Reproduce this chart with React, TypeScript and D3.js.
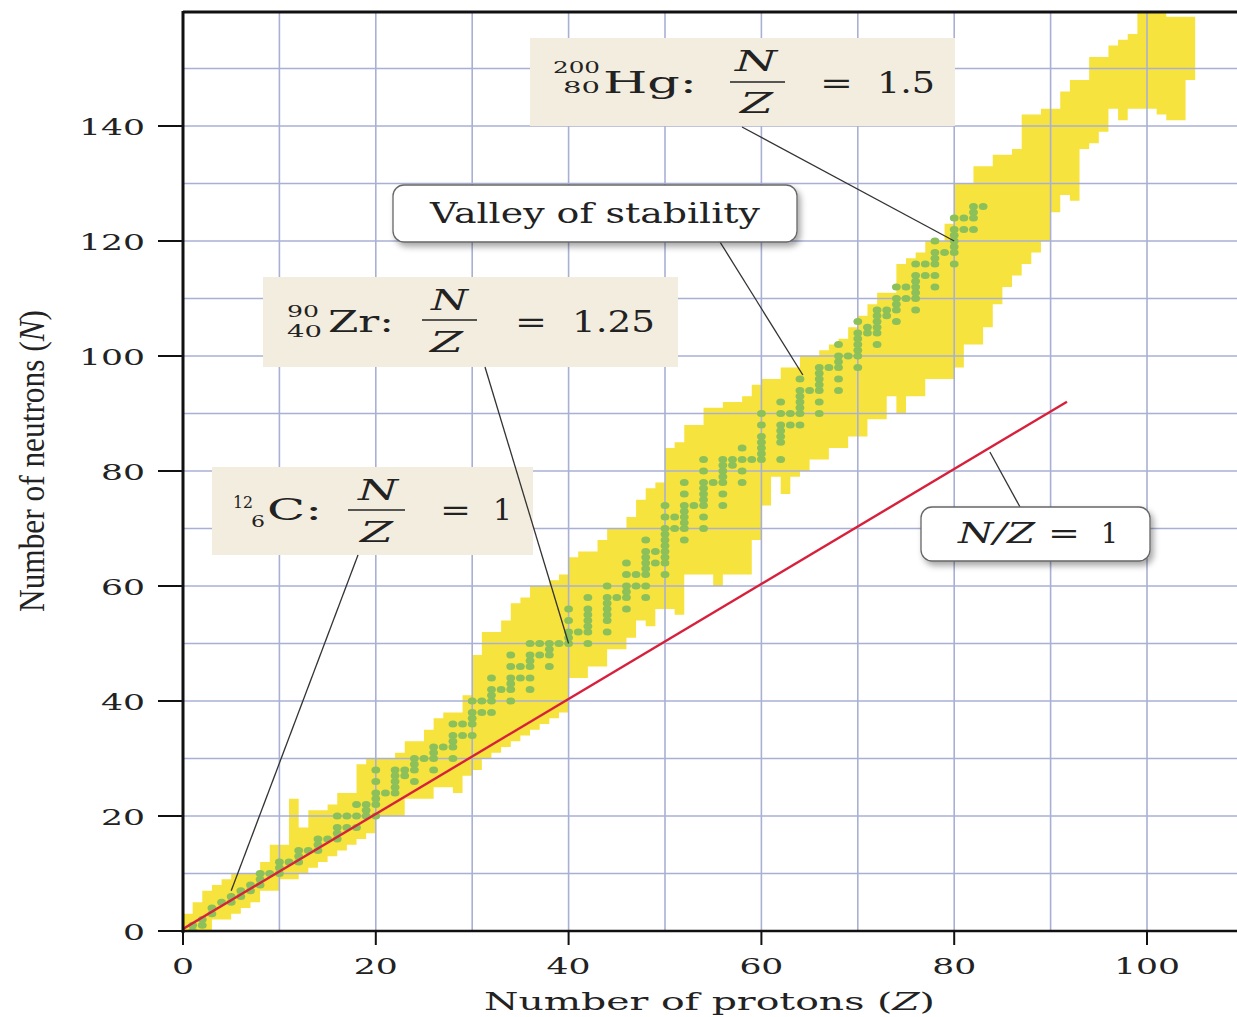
import React from 'react';
import * as d3 from 'd3';

const W = 1237;
const H = 1017;

// axis ticks
const zTicks = [0, 20, 40, 60, 80, 100];
const nTicks = [0, 20, 40, 60, 80, 100, 120, 140];
const zGrid = [10, 20, 30, 40, 50, 60, 70, 80, 90, 100];
const nGrid = [10, 20, 30, 40, 50, 60, 70, 80, 90, 100, 110, 120, 130, 140, 150];

// band of known nuclides: for each proton column Z..Z+1, lowest and highest N
const bandLow = [
  0, 0, 0, 2, 2, 3, 4, 5, 7, 7,
  9, 9, 10, 11, 12, 13, 14, 15, 16, 17,
  20, 20, 20, 23, 23, 23, 25, 25, 24, 27,
  28, 30, 31, 32, 33, 34, 35, 36, 37, 38,
  44, 44, 46, 46, 49, 49, 51, 54, 53, 56,
  56, 55, 62, 62, 62, 60, 62, 62, 62, 68,
  74, 79, 76, 79, 80, 82, 82, 84, 84, 86,
  86, 89, 89, 93, 90, 93, 93, 96, 96, 96,
  98, 102, 102, 105, 109, 112, 114, 116, 118, 120,
  125, 128, 127, 136, 137, 139, 143, 141, 143, 143,
  143, 142, 141, 141, 148,
];
const bandHigh = [
  3, 5, 7, 8, 9, 10, 10, 10, 12, 15,
  15, 23, 18, 21, 21, 22, 24, 24, 29, 30,
  30, 30, 31, 33, 33, 35, 37, 38, 38, 41,
  48, 52, 52, 54, 57, 58, 60, 60, 61, 62,
  65, 66, 66, 68, 70, 70, 72, 75, 77, 78,
  84, 85, 88, 88, 91, 91, 92, 92, 93, 95,
  96, 96, 98, 98, 100, 100, 101, 102, 103, 105,
  107, 109, 111, 111, 116, 117, 118, 120, 120, 123,
  130, 130, 133, 133, 135, 135, 136, 142, 142, 143,
  143, 146, 148, 148, 152, 152, 154, 155, 156, 160,
  160, 160, 159, 159, 159,
];

// stable nuclides: neutron numbers for each Z (index = Z)
const stableN: number[][] = [
  [], [0, 1], [1, 2], [3, 4], [5], [5, 6], [6, 7], [7, 8], [8, 9, 10], [10],
  [10, 11, 12], [12], [12, 13, 14], [14], [14, 15, 16], [16], [16, 17, 18, 20], [18, 20], [18, 20, 22], [20, 21, 22],
  [20, 22, 23, 24, 26, 28], [24], [24, 25, 26, 27, 28], [27, 28], [26, 28, 29, 30], [30], [28, 30, 31, 32], [32], [30, 32, 33, 34, 36], [34, 36],
  [34, 36, 37, 38, 40], [38, 40], [38, 40, 41, 42, 44], [42], [40, 42, 43, 44, 46, 48], [44, 46], [42, 44, 46, 47, 48, 50], [48, 50], [46, 48, 49, 50], [50],
  [50, 51, 52, 54, 56], [52], [50, 52, 53, 54, 55, 56, 58], [], [52, 54, 55, 56, 57, 58, 60], [58], [56, 58, 59, 60, 62, 64], [60, 62], [58, 60, 62, 63, 64, 65, 66, 68], [64, 66],
  [62, 64, 65, 66, 67, 68, 69, 70, 72, 74], [70, 72], [68, 70, 71, 72, 73, 74, 76, 78], [74], [70, 72, 74, 75, 76, 77, 78, 80, 82], [78], [74, 76, 78, 79, 80, 81, 82], [81, 82], [78, 80, 82, 84], [82],
  [82, 83, 84, 85, 86, 88, 90], [], [82, 85, 86, 87, 88, 90, 92], [88, 90], [88, 90, 91, 92, 93, 94, 96], [94], [90, 92, 94, 95, 96, 97, 98], [98], [94, 96, 98, 99, 100, 102], [100],
  [98, 100, 101, 102, 103, 104, 106], [104, 105], [102, 104, 105, 106, 107, 108], [107, 108], [106, 108, 109, 110, 112], [110, 112], [108, 110, 111, 112, 113, 114, 116], [114, 116], [112, 114, 116, 117, 118, 120], [118],
  [116, 118, 119, 120, 121, 122, 124], [122, 124], [122, 124, 125, 126], [126],
];

// N/Z = 1 reference line (Z values; N = Z)
const nzOneLine = [0, 91.7];

// annotation targets (Z, N)
const targetC = [5, 7];
const targetZr = [40, 50];
const targetHg = [80, 120];
const targetValley = [64.3, 96.7];
const targetNZ = [83.7, 83.3];

const SERIF = "'DejaVu Serif', serif";
const YELLOW = '#f7e33d';
const GREEN = '#8cc05a';
const GRID = '#a9b0d4';
const RED = '#d7203c';
const BEIGE = '#f3eddf';

export default function App() {
  const x = d3.scaleLinear().domain([0, 100]).range([183, 1147]);
  const y = d3.scaleLinear().domain([0, 160]).range([931, 11]);

  const bandData = bandLow.map((lo, i) => ({ z: i, lo, hi: bandHigh[i] }));
  bandData.push({ z: bandLow.length, lo: bandLow[bandLow.length - 1], hi: bandHigh[bandHigh.length - 1] });
  const area = d3
    .area<{ z: number; lo: number; hi: number }>()
    .x((d) => x(d.z))
    .y0((d) => y(d.lo))
    .y1((d) => y(d.hi))
    .curve(d3.curveStepAfter);

  const dots: { z: number; n: number }[] = [];
  stableN.forEach((ns, z) => ns.forEach((n) => dots.push({ z, n })));

  const redLine = d3
    .line<number>()
    .x((d) => x(d))
    .y((d) => y(d) - 2);

  const digitW = 22;

  return (
    <svg width={W} height={H} style={{ position: 'absolute', left: 0, top: 0, background: '#fff' }}>
      <defs>
        <clipPath id="plot">
          <rect x={183} y={12} width={W - 183} height={931 - 12} />
        </clipPath>
        <filter id="shadow" x="-10%" y="-20%" width="130%" height="160%">
          <feDropShadow dx="3" dy="4" stdDeviation="3" floodColor="#000" floodOpacity="0.35" />
        </filter>
      </defs>
      <rect x={0} y={0} width={W} height={H} fill="#fff" />

      <g clipPath="url(#plot)">
        <path d={area(bandData) || ''} fill={YELLOW} />
        {zGrid.map((z) => (
          <line key={'gz' + z} x1={x(z)} x2={x(z)} y1={y(0)} y2={y(160)} stroke={GRID} strokeWidth={1.6} />
        ))}
        {nGrid.map((n) => (
          <line key={'gn' + n} x1={x(0)} x2={W} y1={y(n)} y2={y(n)} stroke={GRID} strokeWidth={1.6} />
        ))}
        {dots.map((d, i) => (
          <ellipse key={'d' + i} cx={x(d.z)} cy={y(d.n)} rx={4.4} ry={3.5} fill={GREEN} />
        ))}
        <path d={redLine(nzOneLine) || ''} fill="none" stroke={RED} strokeWidth={2.4} />
      </g>

      {/* axes */}
      <line x1={183} x2={W} y1={12} y2={12} stroke="#111" strokeWidth={3} />
      <line x1={183} x2={183} y1={11} y2={933} stroke="#111" strokeWidth={3} />
      <line x1={182} x2={W} y1={931} y2={931} stroke="#111" strokeWidth={2.5} />

      {nTicks.map((n) => {
        const s = String(n);
        const w = s.length * digitW;
        return (
          <g key={'yt' + n}>
            <line x1={158} x2={183} y1={y(n)} y2={y(n)} stroke="#111" strokeWidth={2} />
            <text x={145 - w} y={y(n) + 8.5} fontFamily={SERIF} fontSize={23} fill="#222" textLength={w} lengthAdjust="spacingAndGlyphs">
              {s}
            </text>
          </g>
        );
      })}
      {zTicks.map((z) => {
        const s = String(z);
        const w = s.length * digitW;
        return (
          <g key={'xt' + z}>
            <line x1={x(z)} x2={x(z)} y1={931} y2={945} stroke="#111" strokeWidth={2} />
            <text x={x(z) - w / 2} y={974} fontFamily={SERIF} fontSize={23} fill="#222" textLength={w} lengthAdjust="spacingAndGlyphs">
              {s}
            </text>
          </g>
        );
      })}

      <text
        transform="translate(44,612) rotate(-90) scale(1,1.35)"
        fontFamily="'Liberation Serif', serif"
        fontSize={27}
        fill="#222"
        textLength={302}
        lengthAdjust="spacingAndGlyphs"
      >
        Number of neutrons (<tspan fontStyle="italic">N</tspan>)
      </text>
      <text x={484} y={1010} fontFamily={SERIF} fontSize={25} fill="#222" textLength={451} lengthAdjust="spacingAndGlyphs">
        Number of protons (<tspan fontStyle="italic">Z</tspan>)
      </text>

      {/* Hg box */}
      <g fill="#222" fontFamily={SERIF}>
        <rect x={530} y={38} width={425} height={88} fill={BEIGE} />
        <text x={553} y={73} fontSize={17} textLength={47} lengthAdjust="spacingAndGlyphs">200</text>
        <text x={563} y={93} fontSize={17} textLength={37} lengthAdjust="spacingAndGlyphs">80</text>
        <text x={603} y={93} fontSize={30} textLength={94} lengthAdjust="spacingAndGlyphs">Hg:</text>
        <text x={735} y={71} fontSize={28} fontStyle="italic" textLength={42} lengthAdjust="spacingAndGlyphs">N</text>
        <line x1={730} x2={785} y1={82} y2={82} stroke="#222" strokeWidth={1.5} />
        <text x={740} y={113} fontSize={28} fontStyle="italic" textLength={33} lengthAdjust="spacingAndGlyphs">Z</text>
        <text x={820} y={93} fontSize={30} textLength={33} lengthAdjust="spacingAndGlyphs">=</text>
        <text x={877} y={93} fontSize={30} textLength={58} lengthAdjust="spacingAndGlyphs">1.5</text>
      </g>

      {/* Zr box */}
      <g fill="#222" fontFamily={SERIF}>
        <rect x={263} y={277} width={415} height={90} fill={BEIGE} />
        <text x={287} y={317} fontSize={17} textLength={32} lengthAdjust="spacingAndGlyphs">90</text>
        <text x={287} y={337} fontSize={17} textLength={35} lengthAdjust="spacingAndGlyphs">40</text>
        <text x={328} y={332} fontSize={30} textLength={66} lengthAdjust="spacingAndGlyphs">Zr:</text>
        <text x={431} y={310} fontSize={28} fontStyle="italic" textLength={37} lengthAdjust="spacingAndGlyphs">N</text>
        <line x1={422} x2={477} y1={320} y2={320} stroke="#222" strokeWidth={1.5} />
        <text x={430} y={352} fontSize={28} fontStyle="italic" textLength={33} lengthAdjust="spacingAndGlyphs">Z</text>
        <text x={515} y={332} fontSize={30} textLength={32} lengthAdjust="spacingAndGlyphs">=</text>
        <text x={572} y={332} fontSize={30} textLength={83} lengthAdjust="spacingAndGlyphs">1.25</text>
      </g>

      {/* C box */}
      <g fill="#222" fontFamily={SERIF}>
        <rect x={212} y={467} width={321} height={88} fill={BEIGE} />
        <text x={233} y={508} fontSize={16} textLength={20} lengthAdjust="spacingAndGlyphs">12</text>
        <text x={251} y={527} fontSize={16} textLength={14} lengthAdjust="spacingAndGlyphs">6</text>
        <text x={267} y={520} fontSize={30} textLength={55} lengthAdjust="spacingAndGlyphs">C:</text>
        <text x={358} y={500} fontSize={28} fontStyle="italic" textLength={40} lengthAdjust="spacingAndGlyphs">N</text>
        <line x1={348} x2={405} y1={510} y2={510} stroke="#222" strokeWidth={1.5} />
        <text x={360} y={542} fontSize={28} fontStyle="italic" textLength={33} lengthAdjust="spacingAndGlyphs">Z</text>
        <text x={440} y={520} fontSize={30} textLength={31} lengthAdjust="spacingAndGlyphs">=</text>
        <text x={493} y={520} fontSize={30} textLength={19} lengthAdjust="spacingAndGlyphs">1</text>
      </g>

      {/* leader lines (drawn over the beige boxes) */}
      <g stroke="#333" strokeWidth={1.3}>
        <line x1={358} y1={555} x2={x(targetC[0])} y2={y(targetC[1])} />
        <line x1={485} y1={367} x2={x(targetZr[0])} y2={y(targetZr[1])} />
        <line x1={742} y1={127} x2={x(targetHg[0])} y2={y(targetHg[1])} />
        <line x1={720} y1={242} x2={x(targetValley[0])} y2={y(targetValley[1])} />
        <line x1={1020} y1={507} x2={x(targetNZ[0])} y2={y(targetNZ[1])} />
      </g>

      {/* Valley of stability */}
      <g fontFamily={SERIF} fill="#222">
        <rect x={393} y={185} width={404} height={57} rx={11} fill="#fff" stroke="#666" strokeWidth={1.3} filter="url(#shadow)" />
        <text x={430} y={223} fontSize={27} textLength={330} lengthAdjust="spacingAndGlyphs">Valley of stability</text>
      </g>

      {/* N/Z = 1 */}
      <g fontFamily={SERIF} fill="#222">
        <rect x={921} y={507} width={229} height={54} rx={11} fill="#fff" stroke="#666" strokeWidth={1.3} filter="url(#shadow)" />
        <text x={958} y={543} fontSize={27} fontStyle="italic" textLength={77} lengthAdjust="spacingAndGlyphs">N/Z</text>
        <text x={1048} y={543} fontSize={27} textLength={32} lengthAdjust="spacingAndGlyphs">=</text>
        <text x={1101} y={543} fontSize={27} textLength={17} lengthAdjust="spacingAndGlyphs">1</text>
      </g>
    </svg>
  );
}
